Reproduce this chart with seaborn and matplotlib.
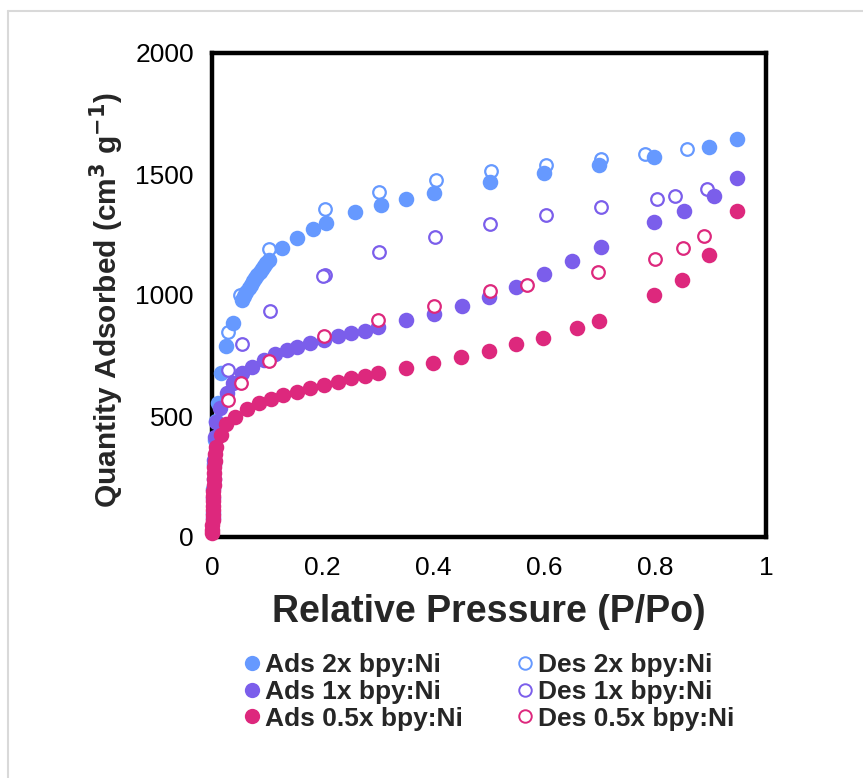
import matplotlib
matplotlib.use("Agg")
import matplotlib.pyplot as plt
import seaborn as sns
import pandas as pd
from matplotlib.lines import Line2D

sns.set_theme(style="white")
plt.rcParams['font.family'] = ['Liberation Sans', 'DejaVu Sans']

# ---------------- data ----------------
ads2_p = [0.001, 0.002, 0.003, 0.005, 0.007, 0.011, 0.016, 0.026, 0.038,
          0.054, 0.058, 0.062, 0.066, 0.070, 0.074, 0.078, 0.082, 0.086, 0.090, 0.094, 0.098, 0.102,
          0.126, 0.154, 0.182, 0.206, 0.259, 0.305, 0.351, 0.401, 0.502, 0.600, 0.699, 0.798, 0.898, 0.948]
ads2_v = [100, 200, 300, 400, 480, 552, 676, 789, 886,
          979, 995, 1012, 1028, 1043, 1057, 1070, 1083, 1095, 1107, 1120, 1132, 1145,
          1193, 1234, 1271, 1296, 1342, 1372, 1398, 1423, 1468, 1503, 1536, 1569, 1610, 1643]

des2_p = [0.857, 0.781, 0.702, 0.603, 0.503, 0.404, 0.302, 0.204, 0.103, 0.051, 0.029]
des2_v = [1602, 1583, 1563, 1537, 1512, 1475, 1427, 1354, 1189, 1000, 847]

ads1_p = [0.001, 0.002, 0.003, 0.004, 0.006, 0.008, 0.014, 0.027, 0.038, 0.054, 0.073, 0.093,
          0.114, 0.136, 0.153, 0.177, 0.202, 0.227, 0.251, 0.276, 0.300, 0.351, 0.401, 0.451,
          0.500, 0.548, 0.600, 0.649, 0.702, 0.798, 0.852, 0.907, 0.948]
ads1_v = [80, 160, 240, 320, 414, 476, 532, 594, 635, 676, 704, 731,
          755, 773, 786, 800, 814, 831, 842, 853, 867, 897, 921, 956,
          993, 1034, 1086, 1140, 1197, 1303, 1347, 1410, 1485]

des1_p = [0.894, 0.835, 0.803, 0.702, 0.603, 0.502, 0.402, 0.302, 0.204, 0.200, 0.105, 0.054, 0.028]
des1_v = [1438, 1409, 1395, 1362, 1331, 1292, 1241, 1176, 1083, 1078, 935, 798, 690]

ads05_p = [0.0003, 0.0005, 0.0008, 0.001, 0.0012, 0.0015, 0.0018, 0.002, 0.0023, 0.0026,
           0.003, 0.0035, 0.004, 0.0045, 0.005, 0.006, 0.007, 0.016, 0.026, 0.042, 0.063,
           0.084, 0.106, 0.129, 0.153, 0.177, 0.202, 0.227, 0.251, 0.276, 0.300, 0.351,
           0.399, 0.449, 0.500, 0.549, 0.598, 0.658, 0.699, 0.798, 0.848, 0.898, 0.948]
ads05_v = [15, 30, 50, 70, 90, 110, 130, 150, 170, 190,
           215, 240, 265, 290, 315, 345, 373, 421, 466, 497, 529,
           552, 570, 587, 601, 617, 628, 642, 656, 665, 676, 697,
           720, 745, 770, 796, 821, 862, 893, 999, 1062, 1165, 1348]

des05_p = [0.888, 0.851, 0.800, 0.697, 0.568, 0.502, 0.401, 0.299, 0.203, 0.103, 0.052, 0.028]
des05_v = [1244, 1193, 1149, 1094, 1041, 1017, 955, 897, 831, 727, 638, 566]

labels = ["Ads 2x bpy:Ni", "Ads 1x bpy:Ni", "Ads 0.5x bpy:Ni",
          "Des 2x bpy:Ni", "Des 1x bpy:Ni", "Des 0.5x bpy:Ni"]
c_blue = "#6699FF"
c_purple = "#7B5EEB"
c_pink = "#DD287D"

x_ticks = [0, 0.2, 0.4, 0.6, 0.8, 1.0]
x_ticklabels = ["0", "0.2", "0.4", "0.6", "0.8", "1"]
y_ticks = [0, 500, 1000, 1500, 2000]

# ---------------- figure ----------------
fig = plt.figure(figsize=(8.63, 7.78), dpi=100)
ax = fig.add_axes([212/863, 1-537/778, (766-212)/863, (537-53)/778])

# outer light-grey chart border
fig.add_artist(Line2D([8/863, 8/863], [1-11/778, -0.1], color="#D9D9D9", lw=1.5, transform=fig.transFigure))
fig.add_artist(Line2D([8/863, 1.1], [1-11/778, 1-11/778], color="#D9D9D9", lw=1.5, transform=fig.transFigure))

S_FILL = 125
S_OPEN = 82
LW_OPEN = 1.6

def filled(p, v, c):
    df = pd.DataFrame({"p": p, "v": v})
    sns.scatterplot(data=df, x="p", y="v", ax=ax, color=c, s=S_FILL, linewidth=0,
                    clip_on=False, zorder=5, legend=False)

def hollow(p, v, c):
    df = pd.DataFrame({"p": p, "v": v})
    sns.scatterplot(data=df, x="p", y="v", ax=ax, facecolor="white", edgecolor=c, s=S_OPEN,
                    linewidth=LW_OPEN, clip_on=False, zorder=5, legend=False)

hollow(des2_p, des2_v, c_blue)
filled(ads2_p, ads2_v, c_blue)
hollow(des1_p, des1_v, c_purple)
filled(ads1_p, ads1_v, c_purple)
hollow(des05_p, des05_v, c_pink)
filled(ads05_p, ads05_v, c_pink)

ax.set_xlim(0, 1)
ax.set_ylim(0, 2000)
ax.set_xticks(x_ticks)
ax.set_xticklabels(x_ticklabels)
ax.set_yticks(y_ticks)
for sp in ax.spines.values():
    sp.set_visible(True)
    sp.set_color("black")
    sp.set_linewidth(3.2)
ax.tick_params(axis="both", direction="in", length=5, width=1.2, colors="black",
               labelsize=19)
ax.tick_params(axis="x", pad=14)
ax.tick_params(axis="y", pad=13)
ax.set_xlabel("Relative Pressure (P/Po)", fontsize=27, fontweight="bold", labelpad=10)
ax.set_ylabel("Quantity Adsorbed (cm$^{\\mathbf{3}}$ g$^{\\mathbf{-1}}$)", fontsize=21.5,
              fontweight="bold")
ax.yaxis.set_label_coords(-0.156, 0.49)
ax.grid(False)

handles = [
    Line2D([], [], ls="", marker="o", markersize=11, markerfacecolor=c_blue, markeredgewidth=0),
    Line2D([], [], ls="", marker="o", markersize=11, markerfacecolor=c_purple, markeredgewidth=0),
    Line2D([], [], ls="", marker="o", markersize=11, markerfacecolor=c_pink, markeredgewidth=0),
    Line2D([], [], ls="", marker="o", markersize=9, markerfacecolor="white", markeredgecolor=c_blue, markeredgewidth=1.4),
    Line2D([], [], ls="", marker="o", markersize=9, markerfacecolor="white", markeredgecolor=c_purple, markeredgewidth=1.4),
    Line2D([], [], ls="", marker="o", markersize=9, markerfacecolor="white", markeredgecolor=c_pink, markeredgewidth=1.4),
]
fig.legend(handles, labels, ncol=2, loc="center", bbox_to_anchor=(489/863, 1-692/778),
           frameon=False, prop={"weight": "bold", "size": 19}, handlelength=0.6,
           handletextpad=0.2, columnspacing=2.05, labelspacing=0.1, borderpad=0)

fig.savefig("out.png", dpi=100)
